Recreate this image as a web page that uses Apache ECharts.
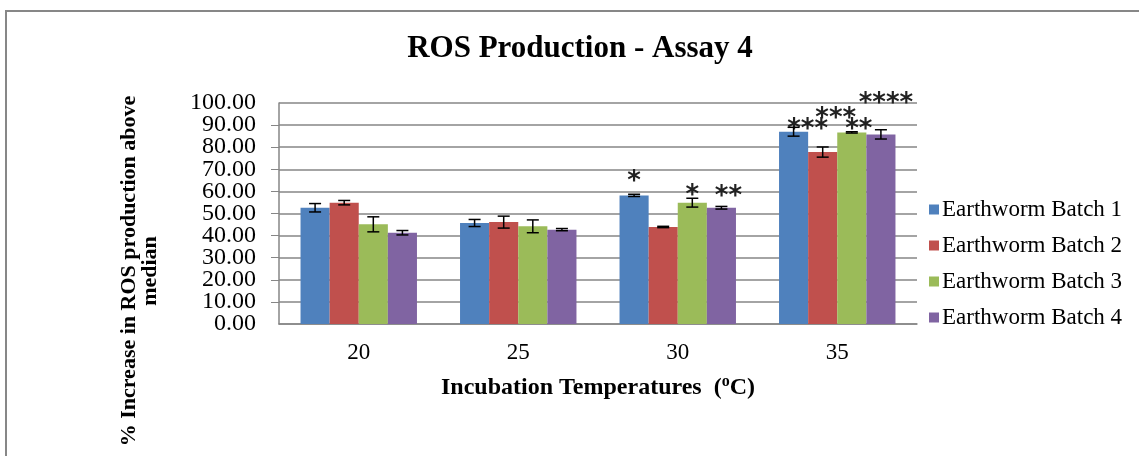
<!DOCTYPE html>
<html>
<head>
<meta charset="utf-8">
<script src="https://cdn.jsdelivr.net/npm/echarts@6/dist/echarts.min.js"></script>
<style>
html,body{margin:0;padding:0;background:#fff;}
#chart{width:1139px;height:456px;}
</style>
</head>
<body>
<div id="chart"></div>
<script>
// ---- data ----
const categories = ['20', '25', '30', '35'];
const seriesNames = ['Earthworm Batch 1', 'Earthworm Batch 2', 'Earthworm Batch 3', 'Earthworm Batch 4'];
const batch1 = [52.6, 45.7, 58.2, 87.0];
const batch2 = [54.9, 46.1, 43.9, 77.8];
const batch3 = [45.1, 44.2, 54.9, 86.7];
const batch4 = [41.3, 42.7, 52.6, 85.8];
const err1 = [1.9, 1.6, 0.5, 2.0];
const err2 = [1.0, 2.7, 0.3, 2.3];
const err3 = [3.4, 2.9, 2.0, 0.3];
const err4 = [1.0, 0.5, 0.6, 2.1];
const sig1 = ['', '', '*', '***'];
const sig2 = ['', '', '', '***'];
const sig3 = ['', '', '*', '**'];
const sig4 = ['', '', '**', '****'];
const yTicks = [0, 10, 20, 30, 40, 50, 60, 70, 80, 90, 100];

// ---- layout / style ----
const colors = ['#4F81BD', '#C0504D', '#9BBB59', '#8064A2'];
const serif = "'Liberation Serif','Times New Roman',serif";
const CAT_GAP = 0.27;
// label offsets for significance marks [dx, dy] per series, per category
const sigOffsets = [
  [[0,0],[0,0],[0,0],[14,12]],
  [[0,0],[0,0],[0,0],[13,-20]],
  [[0,0],[0,0],[0,7],[7,11]],
  [[0,0],[0,0],[7,2],[5,-17]]
];

const values = [batch1, batch2, batch3, batch4];
const errs = [err1, err2, err3, err4];
const sigs = [sig1, sig2, sig3, sig4];
const yMin = yTicks[0], yMax = yTicks[yTicks.length - 1], yStep = yTicks[1] - yTicks[0];

const series = [];
values.forEach((vals, si) => {
  series.push({
    name: seriesNames[si],
    type: 'bar',
    yAxisIndex: 0,
    barGap: '0%',
    barCategoryGap: (CAT_GAP * 100) + '%',
    itemStyle: { color: colors[si] },
    z: 2,
    data: vals.map((v, ci) => ({
      value: v,
      label: {
        show: sigs[si][ci] !== '',
        formatter: sigs[si][ci],
        position: 'top',
        distance: 0,
        offset: sigOffsets[si][ci],
        fontFamily: "'DejaVu Sans', sans-serif",
        fontWeight: 'bold',
        fontSize: 26,
        color: '#222'
      }
    }))
  });
});
values.forEach((vals, si) => {
  series.push({
    name: 'err' + si,
    type: 'custom',
    yAxisIndex: 0,
    z: 5,
    encode: { x: 0, y: [1, 2] },
    data: vals.map((v, ci) => [ci, v - errs[si][ci], v + errs[si][ci]]),
    renderItem: function (params, api) {
      const ci = api.value(0);
      const band = api.size([1, 0])[0];
      const bw = band * (1 - CAT_GAP) / 4;
      const cx = api.coord([ci, 0])[0] + (si - 1.5) * bw;
      const yLo = api.coord([ci, api.value(1)])[1];
      const yHi = api.coord([ci, api.value(2)])[1];
      const hw = 6;
      const st = { stroke: '#000', lineWidth: 1.5 };
      return {
        type: 'group',
        children: [
          { type: 'line', shape: { x1: cx, y1: yLo, x2: cx, y2: yHi }, style: st },
          { type: 'line', shape: { x1: cx - hw, y1: yHi, x2: cx + hw, y2: yHi }, style: st },
          { type: 'line', shape: { x1: cx - hw, y1: yLo, x2: cx + hw, y2: yLo }, style: st }
        ]
      };
    }
  });
});

const yLabelStyle = { fontFamily: serif, fontSize: 24, color: '#000', margin: 23 };

const chart = echarts.init(document.getElementById('chart'));
chart.setOption({
  backgroundColor: '#fff',
  animation: false,
  title: {
    text: 'ROS Production - Assay 4',
    left: 575,
    textAlign: 'center',
    top: 28,
    textStyle: { fontFamily: serif, fontWeight: 'bold', fontSize: 31, color: '#000' }
  },
  legend: {
    orient: 'vertical',
    left: 924,
    top: 193,
    itemWidth: 10,
    itemHeight: 10,
    itemGap: 13,
    icon: 'rect',
    data: seriesNames,
    textStyle: { fontFamily: serif, fontSize: 23, color: '#000', lineHeight: 23, padding: [0, 0, 0, -2] }
  },
  grid: { left: 279, right: 222, top: 103, bottom: 132, containLabel: false },
  xAxis: {
    type: 'category',
    data: categories,
    axisLine: { lineStyle: { color: '#868686', width: 1.5 } },
    axisTick: { show: false },
    axisLabel: { fontFamily: serif, fontSize: 23, color: '#000', margin: 17 },
    name: '{b|Incubation Temperatures  (}{sup|o}{b|C)}',
    nameLocation: 'middle',
    nameGap: 50,
    nameTextStyle: {
      rich: {
        b: { fontFamily: serif, fontWeight: 'bold', fontSize: 24, color: '#000', verticalAlign: 'bottom', lineHeight: 26 },
        sup: { fontFamily: serif, fontWeight: 'bold', fontSize: 16, color: '#000', verticalAlign: 'top', lineHeight: 26, padding: [0, 0, 10, 0] }
      }
    }
  },
  yAxis: [
    {
      type: 'value',
      position: 'left',
      min: yMin, max: yMax, interval: yStep,
      axisLine: { show: true, lineStyle: { color: '#868686', width: 1.5 } },
      axisTick: { show: true, inside: false, length: 8, lineStyle: { color: '#868686' } },
      splitLine: { lineStyle: { color: '#868686', width: 1.5 } },
      axisLabel: Object.assign({}, yLabelStyle, {
        showMinLabel: false, showMaxLabel: false,
        formatter: v => v.toFixed(2)
      })
    },
    {
      type: 'value',
      position: 'left',
      offset: 0,
      min: yMin, max: yMax, interval: yStep,
      axisLine: { show: false },
      axisTick: { show: false },
      splitLine: { show: false },
      axisLabel: Object.assign({}, yLabelStyle, {
        showMinLabel: true, showMaxLabel: true,
        formatter: v => (v === yMin || v === yMax) ? v.toFixed(2) : ''
      })
    }
  ],
  graphic: [
    {
      type: 'rect',
      shape: { x: 6, y: 11, width: 1200, height: 500 },
      style: { fill: 'none', stroke: '#878787', lineWidth: 2 },
      silent: true
    },
    {
      type: 'text',
      x: 140,
      y: 271,
      rotation: Math.PI / 2,
      style: {
        text: '% Increase in ROS production above\nmedian',
        font: 'bold 22px ' + serif,
        fill: '#000',
        textAlign: 'center',
        textVerticalAlign: 'middle',
        lineHeight: 21
      }
    }
  ],
  series: series
});
</script>
</body>
</html>
